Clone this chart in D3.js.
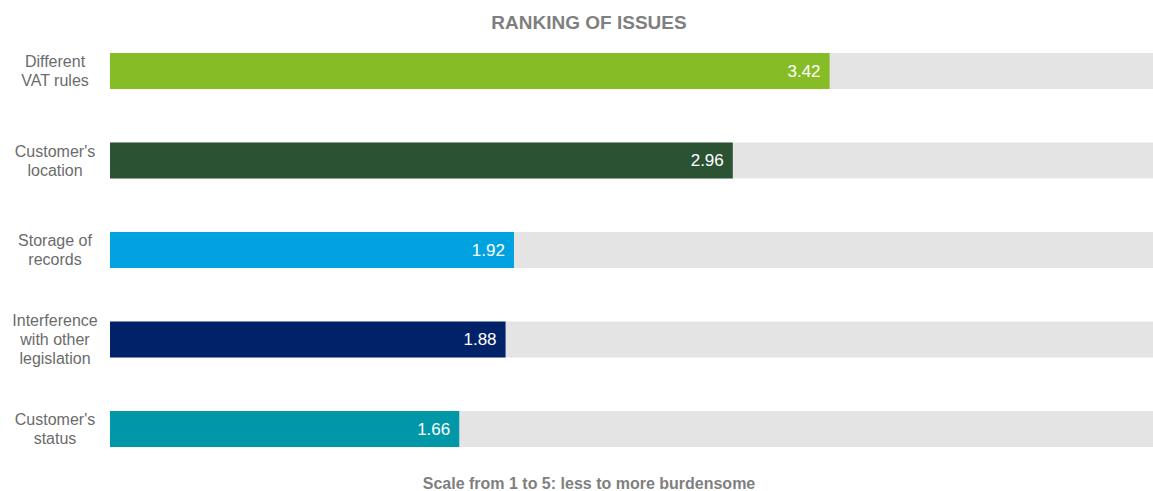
<!DOCTYPE html>
<html>
<head>
<meta charset="utf-8">
<script src="https://cdn.jsdelivr.net/npm/d3@7"></script>
<style>
  body { margin: 0; background: #fff; }
  svg { display: block; font-family: "Liberation Sans", Arial, sans-serif; }
</style>
</head>
<body>
<div id="chart"></div>
<script>
// DATA
var issues = [
  ["Different", "VAT rules"],
  ["Customer's", "location"],
  ["Storage of", "records"],
  ["Interference", "with other", "legislation"],
  ["Customer's", "status"]
];
var scores = [3.42, 2.96, 1.92, 1.88, 1.66];
var colors = ["#86bc25", "#2c5234", "#00a3e0", "#012169", "#0097a9"];
var scaleMax = 5;

var width = 1153, height = 491;

var svg = d3.select('#chart')
  .append('svg')
    .attr('width', width)
    .attr('height', height);

var x = d3.scaleLinear().domain([0, scaleMax]).range([110, 1162]);
var y = d3.scaleBand().domain(d3.range(issues.length)).range([53, 447]).paddingInner(0.598).paddingOuter(0);
var bh = y.bandwidth();

svg.append('text')
  .attr('x', 589).attr('y', 29)
  .attr('text-anchor', 'middle')
  .attr('font-size', 19).attr('font-weight', 'bold')
  .attr('fill', '#7f7f7f')
  .text('RANKING OF ISSUES');

// background tracks
svg.selectAll('rect.track')
  .data(scores)
  .enter().append('rect')
    .attr('class', 'track')
    .attr('x', x(0))
    .attr('y', function(d, i) { return y(i); })
    .attr('width', x(scaleMax) - x(0))
    .attr('height', bh)
    .attr('fill', '#e4e4e4');

// bars
svg.selectAll('rect.bar')
  .data(scores)
  .enter().append('rect')
    .attr('class', 'bar')
    .attr('x', x(0))
    .attr('y', function(d, i) { return y(i); })
    .attr('width', function(d) { return x(d) - x(0); })
    .attr('height', bh)
    .attr('fill', function(d, i) { return colors[i]; });

// value labels
svg.selectAll('text.value')
  .data(scores)
  .enter().append('text')
    .attr('class', 'value')
    .attr('x', function(d) { return x(d) - 9; })
    .attr('y', function(d, i) { return y(i) + bh / 2; })
    .attr('dy', '0.35em')
    .attr('text-anchor', 'end')
    .attr('font-size', 17)
    .attr('fill', '#fff')
    .text(function(d) { return d.toFixed(2); });

// category labels
var labels = svg.selectAll('text.cat')
  .data(issues)
  .enter().append('text')
    .attr('class', 'cat')
    .attr('text-anchor', 'middle')
    .attr('font-size', 16)
    .attr('fill', '#6b6b6b')
    .attr('transform', function(d, i) { return 'translate(55,' + (y(i) + bh / 2) + ')'; });

labels.selectAll('tspan')
  .data(function(d) { return d; })
  .enter().append('tspan')
    .attr('x', 0)
    .attr('y', function(t, j, nodes) {
      var n = nodes.length;
      return (j - (n - 1) / 2) * 19;
    })
    .attr('dy', '0.35em')
    .text(function(t) { return t; });

svg.append('text')
  .attr('x', 589).attr('y', 489)
  .attr('text-anchor', 'middle')
  .attr('font-size', 16).attr('font-weight', 'bold')
  .attr('fill', '#7f7f7f')
  .text('Scale from 1 to 5: less to more burdensome');
</script>
</body>
</html>
